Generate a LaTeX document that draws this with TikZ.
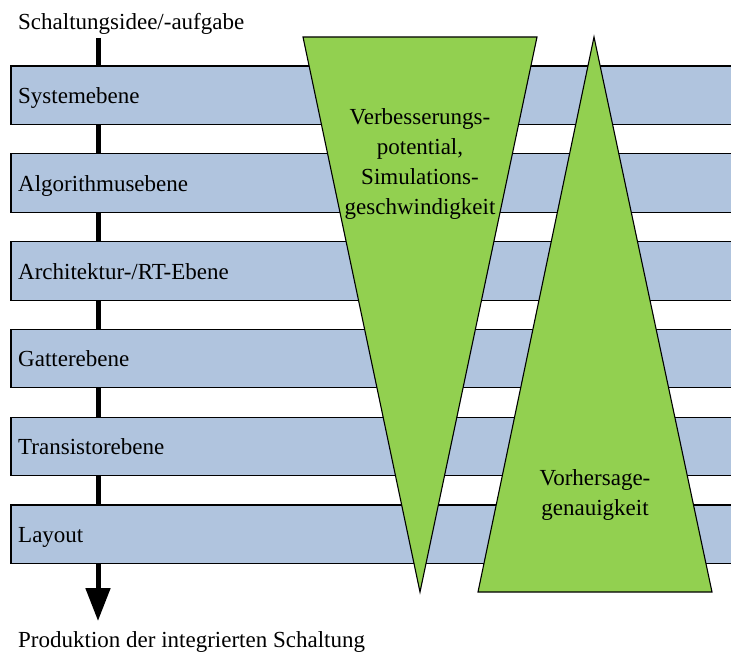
\documentclass[tikz,border=0pt]{standalone}
\usepackage{fontspec}
\setmainfont{Liberation Serif}
\usetikzlibrary{arrows.meta}
\definecolor{barblue}{RGB}{176,196,222}
\definecolor{trigreen}{RGB}{146,208,80}
\tikzset{
  bar/.style={draw=black, line width=1.1pt, fill=barblue},
  tri/.style={draw=black, line width=1.1pt, fill=trigreen, line join=miter},
  lbl/.style={anchor=base west, inner sep=0pt, font=\fontsize{23}{30}\selectfont},
  tlbl/.style={align=center, inner sep=0pt, font=\fontsize{23}{30}\selectfont},
  flow/.style={line width=5pt, -{Triangle[length=33pt,width=24pt]}}
}
\begin{document}
\begin{tikzpicture}[x=1pt,y=-1pt]
\useasboundingbox (0,0) rectangle (731,655);
% design flow axis
\coordinate (top) at (98,38);
\coordinate (bottom) at (98,621);
\draw[flow] (top) -- (bottom);
% abstraction levels
\foreach \i/\name in {0/{Systemebene},1/{Algorithmusebene},2/{Architektur-/RT-Ebene},3/{Gatterebene},4/{Transistorebene},5/{Layout}}{
  \pgfmathsetmacro{\yt}{66+87.8*\i}
  \draw[bar] (11,\yt) rectangle (735,\yt+58.5);
  \node[lbl] (level\i) at (18,\yt+37.5) {\name};
}
% end labels
\node[lbl] (start) at (18,30) {Schaltungsidee/-aufgabe};
\node[lbl] (end) at (18,647) {Produktion der integrierten Schaltung};
% trade-off triangles
\coordinate (a1) at (303,37);
\coordinate (a2) at (537,37);
\coordinate (a3) at (420,592);
\draw[tri] (a1) -- (a2) -- (a3) -- cycle;
\coordinate (b1) at (594,37);
\coordinate (b2) at (712,592);
\coordinate (b3) at (478,592);
\draw[tri] (b1) -- (b2) -- (b3) -- cycle;
\node[tlbl, anchor=base] (potential) at (420,215) {Verbesserungs-\\potential,\\Simulations-\\geschwindigkeit};
\node[tlbl, anchor=base] (accuracy) at (595,515) {Vorhersage-\\genauigkeit};
\end{tikzpicture}
\end{document}
